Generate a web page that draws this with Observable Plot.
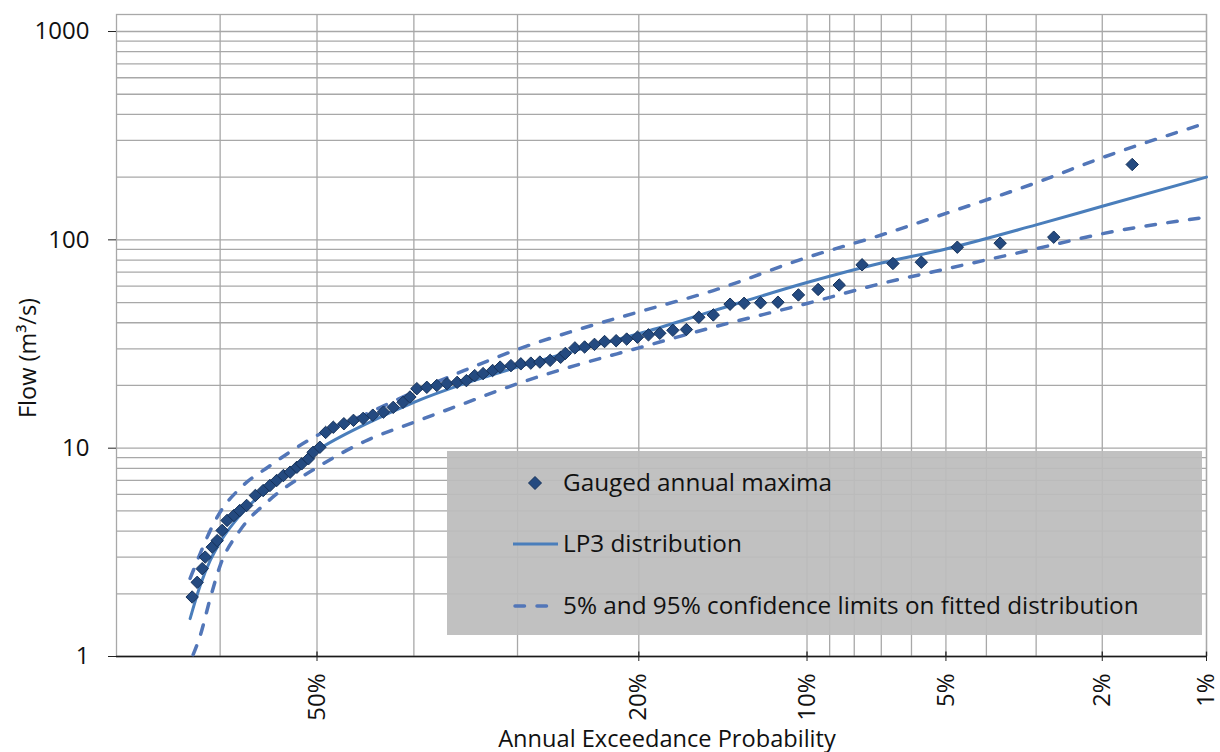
<!DOCTYPE html>
<html><head><meta charset="utf-8">
<script src="https://cdn.jsdelivr.net/npm/d3@7"></script>
<script src="https://cdn.jsdelivr.net/npm/@observablehq/plot@0.6"></script>
<style>
body{margin:0;background:#fff;}
#wrap{position:relative;width:1220px;height:752px;font-family:"Open Sans", Lato, sans-serif;color:#111;}
#wrap svg{display:block;}
#legend{position:absolute;left:447px;top:451px;width:755px;height:184px;background:rgba(188,188,188,0.93);}
#legend svg{position:absolute;left:0;top:0;}
.item{position:absolute;left:116px;font-size:24.3px;line-height:26px;white-space:nowrap;}
#ytitle{position:absolute;left:27px;top:358px;transform:translate(-50%,-50%) rotate(-90deg);font-size:23.5px;white-space:nowrap;}
#xtitle{position:absolute;left:667px;top:724px;transform:translateX(-50%);font-size:23.6px;line-height:28px;white-space:nowrap;}
</style></head><body><div id="wrap"></div>
<script>
// ---- data ----
const pointAEP = [62.8, 62.3, 61.8, 61.5, 60.8, 60.3, 59.8, 59.3, 58.6, 58.0,
  57.3, 56.4, 55.6, 54.9, 54.2, 53.5, 52.8, 52.1, 51.6, 50.9,
  50.4, 49.7, 49.1, 48.3, 47.2, 46.2, 45.2, 44.2, 43.1, 42.1,
  41.1, 40.4, 39.7, 38.7, 37.7, 36.7, 35.7, 34.8, 34.0, 33.2,
  32.3, 31.6, 30.6, 29.7, 28.8, 28.0, 27.1, 26.2, 25.8, 25.0,
  24.2, 23.4, 22.6, 21.7, 20.9, 20.1, 19.3, 18.5, 17.6, 16.7,
  15.9, 15.0, 14.0, 13.2, 12.3, 11.4, 10.4, 9.5, 8.6, 7.7,
  6.6, 5.7, 4.7, 3.7, 2.7, 1.65];
const pointFlow = [1.93, 2.27, 2.64, 3.00, 3.35, 3.60, 4.03, 4.50, 4.75, 5.02,
  5.31, 5.93, 6.26, 6.62, 7.0, 7.39, 7.67, 8.10, 8.41, 8.89,
  9.56, 10.1, 11.9, 12.6, 13.1, 13.6, 13.9, 14.4, 14.9, 15.7,
  16.6, 17.6, 19.3, 19.6, 20.0, 20.4, 20.7, 21.1, 22.3, 22.8,
  23.6, 24.5, 24.9, 25.4, 25.6, 25.9, 26.4, 27.3, 28.5, 30.3,
  30.6, 31.5, 32.5, 32.8, 33.4, 34.1, 35.0, 35.6, 36.8, 37.1,
  42.5, 43.6, 49.1, 49.6, 49.9, 50.2, 54.4, 57.8, 60.7, 75.9,
  77.0, 78.1, 92.2, 96.4, 103, 230];

const curveAEP = [63, 62, 61, 60, 58, 55, 50, 45, 40, 35, 30, 25, 20, 15, 10, 7, 5, 3, 2, 1];
const lp3Flow   = [1.52, 2.19, 2.89, 3.54, 4.75, 6.47, 9.75, 13.0, 16.6, 20.4, 24.5, 29.4, 35.4, 45.6, 62.4, 77.4, 90.4, 118, 145, 200];
const upperFlow = [2.37, 3.12, 4.02, 4.93, 6.4, 8.17, 11.5, 14.5, 18.6, 23.6, 29.8, 36.7, 45.1, 57.1, 82.3, 105.5, 134, 188, 248, 364];
const lowerAEP  = [62.7, 62, 61, 60, 58, 55, 50, 45, 40, 35, 30, 25, 20, 15, 10, 7, 5, 3, 2, 1];
const lowerFlow = [1.02, 1.26, 1.90, 2.73, 4.02, 5.61, 8.08, 10.8, 13.3, 16.4, 20.4, 24.9, 30.3, 38.1, 49.5, 61.7, 72.5, 90.6, 107, 128.5];

const xTickAEP = [50, 20, 10, 5, 2, 1];
const xTickLabels = ["50%", "20%", "10%", "5%", "2%", "1%"];
const gridAEP = [60, 50, 40, 30, 20, 10, 9, 8, 7, 6, 5, 4, 3, 2, 1];
const yTicks = [1, 10, 100, 1000];
const gridMultipliers = [1, 2, 3, 4, 5, 6, 7, 8, 9];
const seriesNames = ["Gauged annual maxima", "LP3 distribution", "5% and 95% confidence limits on fitted distribution"];
const axisTitles = {x: "Annual Exceedance Probability", y: "Flow (m³/s)"};

// ---- normal probability transform (inverse standard normal CDF, Acklam) ----
function qnorm(p) {
  const a=[-3.969683028665376e+01,2.209460984245205e+02,-2.759285104469687e+02,1.383577518672690e+02,-3.066479806614716e+01,2.506628277459239e+00];
  const b=[-5.447609879822406e+01,1.615858368580409e+02,-1.556989798598866e+02,6.680131188771972e+01,-1.328068155288572e+01];
  const c=[-7.784894002430293e-03,-3.223964580411365e-01,-2.400758277161838e+00,-2.549732539343734e+00,4.374664141464968e+00,2.938163982698783e+00];
  const d=[7.784695709041462e-03,3.224671290700398e-01,2.445134137142996e+00,3.754408661907416e+00];
  const pl=0.02425, ph=1-pl; let q, r;
  if (p < pl) { q=Math.sqrt(-2*Math.log(p)); return (((((c[0]*q+c[1])*q+c[2])*q+c[3])*q+c[4])*q+c[5])/((((d[0]*q+d[1])*q+d[2])*q+d[3])*q+1); }
  if (p <= ph) { q=p-0.5; r=q*q; return (((((a[0]*r+a[1])*r+a[2])*r+a[3])*r+a[4])*r+a[5])*q/(((((b[0]*r+b[1])*r+b[2])*r+b[3])*r+b[4])*r+1); }
  q=Math.sqrt(-2*Math.log(1-p)); return -(((((c[0]*q+c[1])*q+c[2])*q+c[3])*q+c[4])*q+c[5])/((((d[0]*q+d[1])*q+d[2])*q+d[3])*q+1);
}
const toZ = aep => qnorm(1 - aep / 100);

const points = pointAEP.map((p, i) => ({aep: p, flow: pointFlow[i]}));
const lp3 = curveAEP.map((p, i) => ({aep: p, flow: lp3Flow[i]}));
const upper = curveAEP.map((p, i) => ({aep: p, flow: upperFlow[i]}));
const lower = lowerAEP.map((p, i) => ({aep: p, flow: lowerFlow[i]}));
const gridFlows = [1, 10, 100].flatMap(dec => gridMultipliers.map(m => m * dec)).concat([1000]);
const labelByZ = new Map(xTickAEP.map((p, i) => [toZ(p), xTickLabels[i]]));

const gridColor = "#a8a8a8";
const dotFill = "#244a80", dotStroke = "#16325a";
const lineColor = "#4a7ebb", dashColor = "#5276b8";
const fontStack = "'Open Sans', Lato, sans-serif";

const chart = Plot.plot({
  width: 1220, height: 752,
  marginTop: 14, marginBottom: 96, marginLeft: 116, marginRight: 14,
  style: {fontFamily: fontStack, fontSize: "24px", color: "#111", background: "transparent"},
  x: {domain: [toZ(70), toZ(1)]},
  y: {type: "log", domain: [1, 1207]},
  marks: [
    Plot.ruleY(gridFlows, {stroke: gridColor, strokeWidth: 1.3}),
    Plot.ruleX(gridAEP, {x: toZ, stroke: gridColor, strokeWidth: 1.3}),
    Plot.frame({stroke: gridColor, strokeWidth: 1.3}),
    Plot.ruleY([1], {stroke: "#1a1a1a", strokeWidth: 1.5}),
    Plot.axisY({ticks: yTicks, tickFormat: d => String(d), tickSize: 8, tickPadding: 19, fontSize: 24, stroke: "#222", label: null}),
    Plot.axisX({ticks: xTickAEP.map(toZ), tickFormat: z => labelByZ.get(z), tickRotate: -90, tickSize: 5, tickPadding: 12, fontSize: 24, stroke: "#222", label: null}),
    Plot.ruleX(xTickAEP, {x: toZ, y1: 1, y2: 1.05, stroke: "#222", strokeWidth: 1.3}),
    Plot.line(lower, {x: d => toZ(d.aep), y: "flow", stroke: dashColor, strokeWidth: 3.5, strokeDasharray: "9.5,12.5", strokeLinecap: "round", curve: "monotone-x"}),
    Plot.line(upper, {x: d => toZ(d.aep), y: "flow", stroke: dashColor, strokeWidth: 3.5, strokeDasharray: "9.5,12.5", strokeLinecap: "round", curve: "monotone-x"}),
    Plot.line(lp3, {x: d => toZ(d.aep), y: "flow", stroke: lineColor, strokeWidth: 3, curve: "monotone-x"}),
    Plot.dot(points, {x: d => toZ(d.aep), y: "flow", symbol: "diamond2", r: 5.6, fill: dotFill, stroke: dotStroke, strokeWidth: 1})
  ]
});

const wrap = document.getElementById("wrap");
wrap.appendChild(chart);

const yt = document.createElement("div"); yt.id = "ytitle"; yt.textContent = axisTitles.y; wrap.appendChild(yt);
const xt = document.createElement("div"); xt.id = "xtitle"; xt.textContent = axisTitles.x; wrap.appendChild(xt);

const legend = document.createElement("div"); legend.id = "legend";
legend.innerHTML = `<svg width="755" height="184">
  <path d="M88,25.5 L94.5,32 L88,38.5 L81.5,32 Z" fill="${dotFill}" stroke="${dotStroke}" stroke-width="1"/>
  <line x1="66" y1="93" x2="111" y2="93" stroke="${lineColor}" stroke-width="3"/>
  <line x1="68" y1="155" x2="104" y2="155" stroke="${dashColor}" stroke-width="3.5" stroke-dasharray="9.5,12.5" stroke-linecap="round"/>
</svg>`;
const rowsY = [32, 93, 155];
seriesNames.forEach((name, i) => {
  const d = document.createElement("div"); d.className = "item"; d.textContent = name;
  d.style.top = (rowsY[i] - 14) + "px"; legend.appendChild(d);
});
wrap.appendChild(legend);
</script></body></html>
